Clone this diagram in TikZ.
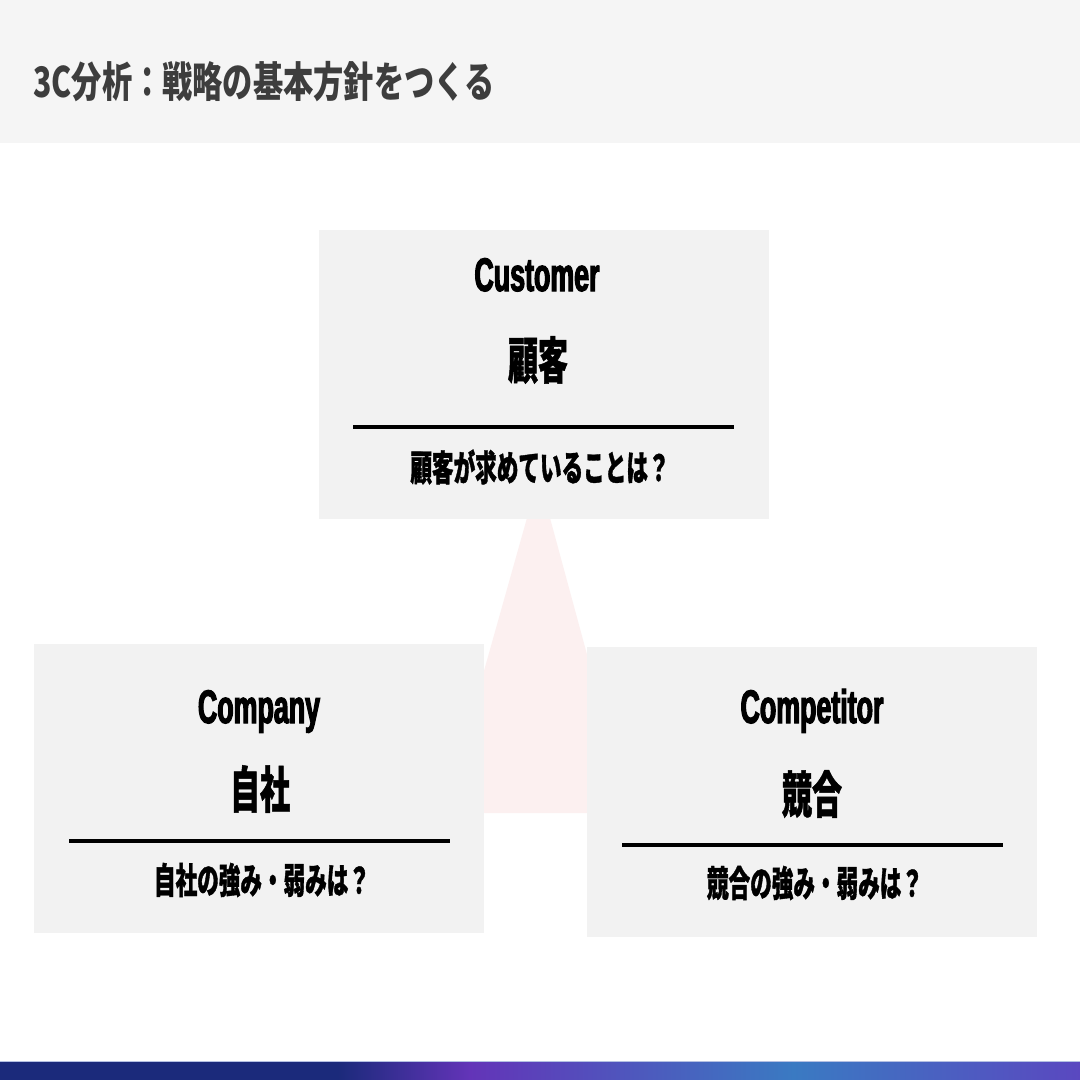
\documentclass[tikz,border=0pt]{standalone}
\usepackage{fontspec}
\newfontfamily\jptitle{Noto Sans CJK JP}[FakeStretch=0.72]
\newfontfamily\jpbody{Noto Sans CJK JP}[FakeStretch=0.6, FakeBold=1]
\newfontfamily\latbody{Liberation Sans}[FakeStretch=0.57, FakeBold=2.5, UprightFont={* Bold}, BoldFont={* Bold}]
\definecolor{bandgray}{HTML}{F5F5F5}
\definecolor{boxgray}{HTML}{F2F2F2}
\definecolor{titlegray}{HTML}{3D3D3D}
\definecolor{pinkbg}{HTML}{FCF0F0}
\definecolor{barnavy}{HTML}{1B2A7B}
\definecolor{barpurple}{HTML}{6334B8}
\definecolor{barblue}{HTML}{3A7AC2}
\definecolor{barend}{HTML}{5A48C0}
\definecolor{barline}{HTML}{B4C0E2}
\tikzset{
  box/.style={fill=boxgray, draw=none, inner sep=0, minimum width=450pt},
  latlabel/.style={font=\latbody\fontsize{47}{50}\selectfont, anchor=base, inner sep=0},
  biglabel/.style={font=\jpbody\bfseries\fontsize{50}{54}\selectfont, inner sep=0},
  sublabel/.style={font=\jpbody\bfseries\fontsize{36}{40}\selectfont, inner sep=0},
  sepline/.style={line width=3.5pt, black},
}
\begin{document}
\begin{tikzpicture}[x=1pt, y=-1pt]
\useasboundingbox (0,0) rectangle (1080,1080);
\fill[white] (0,0) rectangle (1080,1080);
% title band
\fill[bandgray] (0,0) rectangle (1080,143);
\node[anchor=west, inner sep=0, text=titlegray, font=\jptitle\bfseries\fontsize{42}{46}\selectfont] (title) at (33,82) {3C分析：戦略の基本方針をつくる};
% pink background shape
\fill[pinkbg] (527,518) -- (550,518) -- (630,813) -- (444,813) -- cycle;
% boxes
\node[box, minimum height=289pt] (cust) at (544,374.5) {};
\node[box, minimum height=289pt] (comp) at (259,788.5) {};
\node[box, minimum height=290pt] (compt) at (812,792) {};
% customer
\node[latlabel] (custen) at (537,291) {Customer};
\node[biglabel] (custjp) at (538,360) {顧客};
\coordinate (custl) at (353,427);
\coordinate (custr) at (734,427);
\draw[sepline] (custl) -- (custr);
\node[sublabel] (custq) at (540,467) {顧客が求めていることは？};
% company
\node[latlabel] (compen) at (259,723) {Company};
\node[biglabel] (compjp) at (260,789) {自社};
\coordinate (compl) at (69,841);
\coordinate (compr) at (450,841);
\draw[sepline] (compl) -- (compr);
\node[sublabel] (compq) at (262,880) {自社の強み・弱みは？};
% competitor
\node[latlabel] (comptjen) at (812,723) {Competitor};
\node[biglabel] (comptjp) at (812,794) {競合};
\coordinate (comptl) at (622,845);
\coordinate (comptr) at (1003,845);
\draw[sepline] (comptl) -- (comptr);
\node[sublabel] (comptq) at (815,883) {競合の強み・弱みは？};
% bottom gradient bar
\fill[barnavy] (0,1061) rectangle (339,1080);
\fill[left color=barnavy, right color=barpurple] (338,1061) rectangle (470,1080);
\fill[left color=barpurple, right color=barblue] (469,1061) rectangle (794,1080);
\fill[left color=barblue, right color=barend] (793,1061) rectangle (1080,1080);
\fill[barline] (0,1060.5) rectangle (1080,1061.5);
\end{tikzpicture}
\end{document}
